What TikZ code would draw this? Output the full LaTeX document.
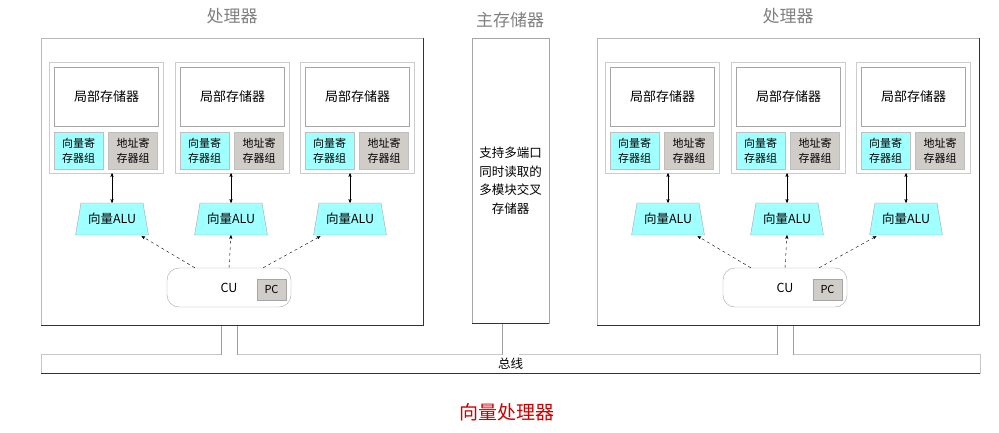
\documentclass[tikz,border=0pt]{standalone}
\usepackage{fontspec}
\setmainfont{Noto Sans CJK SC}
\usetikzlibrary{calc,positioning,arrows,shapes.geometric}
\definecolor{vecblue}{RGB}{160,255,255}
\definecolor{addrgray}{RGB}{208,204,200}
\definecolor{titlered}{RGB}{204,0,0}
\tikzset{
>=stealth',
procbox/.style={ rectangle, draw=gray!55, fill=white, minimum width=382pt, minimum height=287pt},
pebox/.style={ rectangle, draw=gray!40, minimum width=114pt, minimum height=111pt},
localmem/.style={ rectangle, draw=gray!70, minimum width=104pt, minimum height=59pt, font=\fontsize{13}{15}\selectfont},
vecreg/.style={ rectangle, draw=gray!50, fill=vecblue, minimum width=49pt, minimum height=37pt, inner sep=1pt, align=center, font=\fontsize{11}{15}\selectfont},
addrreg/.style={ vecreg, fill=addrgray},
alu/.style={ trapezium, trapezium angle=70, trapezium stretches=true, draw=gray!70, fill=vecblue, minimum width=73pt, minimum height=32pt, inner sep=0pt, font=\fontsize{12.5}{14}\selectfont},
cubox/.style={ rectangle, rounded corners=12pt, draw=gray!70, minimum width=124pt, minimum height=39pt, font=\fontsize{12.5}{14}\selectfont},
pcbox/.style={ rectangle, draw=gray!70, fill=addrgray, minimum width=29pt, minimum height=21pt, inner sep=0pt, font=\fontsize{11}{13}\selectfont},
mainmem/.style={ rectangle, draw=gray!70, fill=white, minimum width=77pt, minimum height=285pt, align=center, font=\fontsize{12.5}{18.5}\selectfont},
busbox/.style={ rectangle, draw=gray!45, fill=white, minimum width=939pt, minimum height=19pt, inner sep=0pt, font=\fontsize{12.5}{14}\selectfont},
heading/.style={ text=gray, font=\fontsize{17}{20}\selectfont},
dataline/.style={draw, thin, <->},
ctrl/.style={draw, thin, dashed, ->},
pipe/.style={draw=gray!75, line width=0.6pt, double=white, double distance=15pt, shorten >=-1pt},
edgeline/.style={draw=gray!40!black, line width=0.9pt},
}

\begin{document}
\begin{tikzpicture}[x=1pt, y=-1pt]
\useasboundingbox (0,0) rectangle (999,432);

% bus
\node[busbox] (bus) at (510.5,363.5) {总线};
\draw[edgeline] (bus.south west) -- (bus.south east);

% main memory
\node[heading] (memtitle) at (510,20) {主存储器};
\node[mainmem] (mem) at (510.5,180.5) {支持多端口\\同时读取的\\多模块交叉\\存储器};
\draw[pipe, double distance=16pt] (mem.south) -- (mem.south |- bus.north);
\draw[edgeline] (mem.south west) -- (mem.south east);

% two processors
\foreach \side/\off in {l/0, r/556} {
  \node[heading] (title\side) at (232+\off,16) {处理器};
  \node[procbox] (proc\side) at (232+\off,181.5) {};
  \draw[pipe] ([xshift=-2.5pt]proc\side.south) -- ([xshift=-2.5pt]proc\side.south |- bus.north);
  \draw[edgeline] (proc\side.south west) -- (proc\side.south east) -- (proc\side.north east);

  \foreach \i/\px/\ax in {1/106.5/112, 2/232.5/231, 3/357.5/350} {
    \node[pebox] (pe\side\i) at (\px+\off,117.5) {};
    \node[localmem] (lmem\side\i) at (\px+\off,96.5) {局部存储器};
    \node[vecreg] (vreg\side\i) at (\px+\off-28,150.5) {向量寄\\存器组};
    \node[addrreg] (areg\side\i) at (\px+\off+26.5,150.5) {地址寄\\存器组};
    \node[alu] (alu\side\i) at (\ax+\off,219) {向量ALU};
    \draw[dataline] (alu\side\i.north |- pe\side\i.south) -- (alu\side\i.north);
  }

  \node[cubox] (cu\side) at (229+\off,287.5) {CU};
  \node[pcbox] (pc\side) at (271.5+\off,289.5) {PC};
  \draw[ctrl] (cu\side.150) -- ($(alu\side1.bottom right corner)+(-7,1)$);
  \draw[ctrl] (cu\side.north) -- (alu\side2.south);
  \draw[ctrl] (cu\side.30) -- ($(alu\side3.bottom left corner)+(7,1)$);
}

\node[text=titlered, font=\fontsize{19}{22}\selectfont] (caption) at (507,412) {向量处理器};
\end{tikzpicture}
\end{document}
